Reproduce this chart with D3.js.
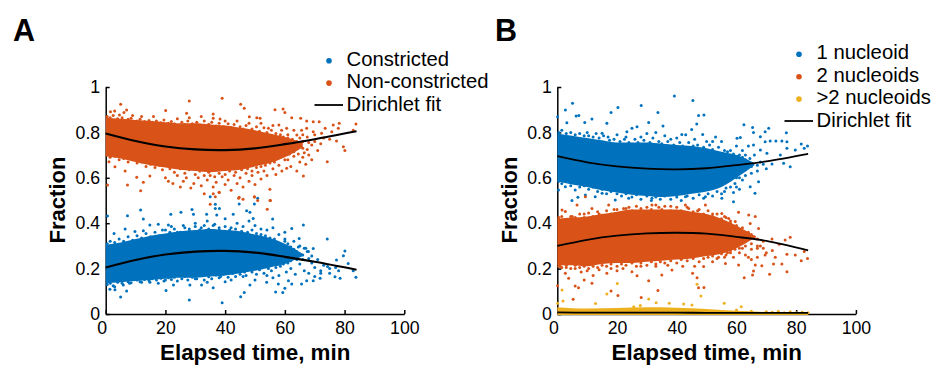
<!DOCTYPE html>
<html>
<head>
<meta charset="utf-8">
<script src="https://cdn.jsdelivr.net/npm/d3@7"></script>
<style>
  body { margin: 0; background: white; overflow: hidden; }
  svg { display: block; font-family: "Liberation Sans", Arial, sans-serif; }
  .tick text { font-size: 17.7px; fill: black; }
</style>
</head>
<body>
<div id="chart-container"></div>
<script>
const xTicks = [0, 20, 40, 60, 80, 100];
const yTicks = [0, 0.2, 0.4, 0.6, 0.8, 1];

const legendA = ["Constricted", "Non-constricted"];
const legendB = ["1 nucleoid", "2 nucleoids", ">2 nucleoids"];

// fit curves
const fitTimes = [0, 10, 20, 30, 40, 50, 60, 70, 84];
const fitNonConstricted = [0.795, 0.762, 0.738, 0.725, 0.722, 0.73, 0.748, 0.77, 0.805];
const fitConstricted = [0.205, 0.238, 0.262, 0.275, 0.278, 0.27, 0.252, 0.23, 0.195];
const fitOne = [0.695, 0.668, 0.65, 0.64, 0.637, 0.642, 0.656, 0.672, 0.705];
const fitTwo = [0.3, 0.327, 0.345, 0.355, 0.358, 0.354, 0.34, 0.322, 0.28];
const fitMore = [0.007, 0.006, 0.006, 0.006, 0.006, 0.005, 0.005, 0.005, 0.005];

// the clouds are too dense to read dot by dot, so their solid core is an
// estimated lower/upper band and only the dots around it are listed, by eye
const coreTimes = [0, 5, 10, 15, 20, 25, 30, 35, 40, 45, 50, 55, 60, 66];
const coreNonUpper = [0.865, 0.86, 0.855, 0.85, 0.845, 0.84, 0.84, 0.835, 0.83, 0.82, 0.81, 0.795, 0.78, 0.755];
const coreNonLower = [0.695, 0.685, 0.67, 0.655, 0.645, 0.635, 0.63, 0.625, 0.63, 0.635, 0.65, 0.665, 0.69, 0.735];
const coreConUpper = [0.305, 0.315, 0.33, 0.345, 0.355, 0.365, 0.37, 0.375, 0.37, 0.365, 0.35, 0.335, 0.31, 0.265];
const coreConLower = [0.135, 0.14, 0.145, 0.15, 0.155, 0.16, 0.16, 0.165, 0.17, 0.18, 0.19, 0.205, 0.22, 0.255];
const coreOneUpper = [0.795, 0.785, 0.775, 0.765, 0.755, 0.755, 0.755, 0.75, 0.745, 0.74, 0.73, 0.715, 0.7, 0.665];
const coreOneLower = [0.585, 0.57, 0.56, 0.545, 0.535, 0.525, 0.52, 0.515, 0.52, 0.53, 0.54, 0.56, 0.6, 0.655];
const coreTwoUpper = [0.42, 0.425, 0.43, 0.44, 0.45, 0.46, 0.46, 0.46, 0.46, 0.45, 0.44, 0.42, 0.39, 0.345];
const coreTwoLower = [0.215, 0.215, 0.21, 0.22, 0.225, 0.225, 0.23, 0.235, 0.24, 0.245, 0.255, 0.265, 0.29, 0.335];
const coreMoreTimes = [0, 10, 20, 30, 40, 50, 60, 70, 84];
const coreMoreUpper = [0.03, 0.024, 0.026, 0.03, 0.028, 0.022, 0.014, 0.009, 0.007];
const coreMoreLower = [-0.004, -0.004, -0.004, -0.004, -0.004, -0.004, -0.004, -0.004, -0.004];

const dotsNon = [
  [5,.924],[28,.938],[39,.95],[45.2,.924],[46.4,.906],[1.6,.891],[3,.894],[7,.899],[6.1,.888],[4.6,.877],
  [20.1,.897],[27.1,.884],[36,.881],[56.7,.9],[59.4,.903],[60,.888],[36,.862],[38.3,.859],[48.1,.869],[50.6,.865],
  [51.7,.862],[54.5,.818],[58,.833],[62.3,.865],[65.3,.862],[67.3,.85],[69.5,.847],[71.5,.847],[73.5,.818],[76.2,.833],
  [78.2,.84],[83.8,.837],[82.9,.81],[77.9,.818],[75.7,.803],[72.3,.796],[69.5,.803],[67.3,.818],[65.6,.81],[64,.789],
  [60.6,.818],[58.9,.81],[77.3,.762],[79.6,.737],[80.1,.72],[74.2,.671],[66.2,.608],[64,.63],[60.6,.642],[.6,.568],
  [7.3,.568],[11.7,.543],[12.6,.58],[10.4,.602],[14.8,.608],[6.5,.63],[3.1,.649],[1.1,.671],[20,.6],[21,.585],
  [22.5,.575],[24,.61],[25,.56],[26,.585],[27,.6],[28.5,.555],[29.5,.575],[31,.6],[32,.565],[33,.53],
  [34,.59],[35,.61],[36,.56],[37,.58],[38,.535],[39,.605],[40,.57],[41,.59],[42,.545],[43,.61],
  [44,.575],[45,.6],[46,.56],[47,.62],[48,.585],[49,.61],[50,.57],[51,.625],[52,.595],[53,.63],
  [54,.61],[55,.55],[56,.64],[57,.615],[58,.655],[59,.63],[61,.68],[62,.65],[63,.695],[65,.67],
  [66,.69],[67,.66],[68,.7],[69,.68],[71,.72],[62,.72],[64,.74],[66,.73],[68,.755],[70,.76],
  [72,.75],[60,.74],[62.5,.77],[65,.775],[67.5,.78],[70,.79],[73,.775],[75,.77],[61,.79],[63,.81],
  [66,.79],[56,.83],[52,.84],[48,.84],[44,.85],[40,.85],[32,.87],[28,.865],[24,.86],[16,.87],
  [12,.87],[9,.875],[36,.53],[38,.536],[44.5,.51],[46,.506],[49.8,.515],[55,.5],[35,.483],[36.7,.517],
  [44.7,.514],[49.8,.517],[50.9,.5],[55.2,.5],[54.1,.461],
  [.5,.87],[1.5,.865],[2.5,.875],[4,.86],[5.5,.865],[7.5,.858],[8.5,.862],[10.5,.85],[11.5,.858],[13,.848],
  [14.5,.852],[15.5,.845],[17,.85],[18.5,.842],[19.5,.855],[21,.84],[22,.848],[23,.838],[25.5,.845],[26.5,.835],
  [27.5,.85],[29,.838],[30.5,.845],[31.5,.83],[33,.85],[34.5,.836],[35.5,.845],[37,.828],[38,.84],[39.5,.825],
  [41,.838],[42,.822],[43,.835],[45,.825],[46,.815],[47,.83],[49,.815],[50.5,.825],[51.5,.805],[53,.82],
  [54,.8],[55.5,.81],[57,.795],[58.5,.79],[59.5,.78],[61,.775],[62,.765],[.5,.7],[1.5,.69],[3,.695],
  [4.5,.68],[6,.685],[7.5,.67],[9,.68],[10.5,.665],[12,.67],[13.5,.65],[15,.66],[16.5,.645],[18,.655],
  [19,.635],[21.5,.64],[23,.625],[25,.64],[26.5,.62],[28,.635],[30,.615],[31.5,.63],[33,.61],[34.5,.625],
  [36.5,.605],[38,.62],[40,.615],[41.5,.63],[43.5,.625],[45.5,.635],[47.5,.64],[49,.63],[50.5,.645],[52,.65],
  [53.5,.655],[55,.665],[56.5,.67],[57.5,.685],[59,.695],[60,.68],[61.5,.705],[63,.715],[64.5,.705],[66.5,.71],
  [67.5,.725],[69,.745],[64,.76],[66,.76],[61,.73],[63,.745],[65,.74]
];
const dotsCon = [
  [35,.517],[36.7,.483],[38.1,.465],[36.7,.465],[44.7,.485],[50.9,.51],[49.8,.485],[48.3,.448],[47.2,.455],[11.7,.458],
  [7.3,.433],[12.6,.418],[.6,.432],[21.8,.439],[25.2,.448],[28.9,.46],[29.4,.439],[33.8,.439],[37.2,.436],[42.7,.439],
  [49.4,.421],[55.9,.418],[62.3,.377],[66.2,.392],[64.8,.333],[74.2,.33],[80.1,.278],[81.2,.223],[79.6,.257],[77.3,.238],
  [69.5,.289],[67.9,.275],[6.5,.374],[2.8,.355],[9.8,.363],[12.6,.367],[14.8,.392],[17.6,.395],[21,.392],[28,.062],
  [39,.05],[5,.075],[20.2,.103],[46.4,.095],[45.2,.076],[56.9,.097],[59.3,.095],[60,.113],[3.1,.107],[1.4,.109],
  [7,.101],[5.9,.128],[83.8,.162],[82.9,.19],[78.5,.157],[76.8,.164],[74.3,.209],[71.8,.157],[69.5,.147],[67.3,.147],
  [65.6,.132],[62.3,.132],[61.2,.147],[57.8,.132],[53.9,.14],[48.3,.128],[36,.116],[40,.142],[32.1,.128],[28.2,.128],
  [22.7,.128],[17.6,.135],[14.8,.14],[60,.33],[61,.31],[62,.295],[63,.32],[64,.275],[65,.3],[66,.26],
  [67,.29],[68,.245],[69,.225],[70,.205],[71,.24],[72,.19],[73,.215],[75,.2],[77,.205],[60.5,.185],
  [62,.2],[63.5,.175],[65,.22],[66.5,.19],[68,.18],[70,.165],[72,.18],[75,.18],[78,.19],[61.5,.24],
  [63,.26],[20,.37],[22,.385],[24,.36],[26,.39],[28,.375],[30,.4],[32,.38],[34,.41],[36,.39],
  [38,.37],[40,.42],[42,.38],[44,.4],[46,.385],[48,.41],[50,.39],[52,.375],[54,.37],[56,.38],
  [58,.35],[60,.36],[20,.15],[24,.145],[30,.155],[34,.14],[38,.16],[42,.15],[46,.165],[50,.15],
  [54,.17],[56,.16],[58,.17],[3,.12],[8,.135],[12,.14],
  [.5,.31],[1.5,.32],[3,.315],[4.5,.33],[6,.32],[7.5,.34],[9,.325],[10.5,.345],[12,.335],[13.5,.355],
  [15,.34],[16.5,.36],[18,.345],[19,.37],[21.5,.36],[23,.375],[25,.36],[26.5,.38],[28,.365],[30,.385],
  [31.5,.37],[33,.39],[34.5,.375],[36.5,.395],[38,.38],[40,.385],[41.5,.37],[43.5,.375],[45.5,.365],[47.5,.36],
  [49,.37],[50.5,.355],[52,.35],[53.5,.345],[55,.335],[56.5,.33],[57.5,.315],[59,.305],[60,.32],[61.5,.295],
  [63,.285],[64.5,.295],[66.5,.29],[67.5,.275],[69,.255],[.5,.13],[1.5,.135],[2.5,.125],[4,.14],[5.5,.135],
  [7.5,.142],[8.5,.138],[10.5,.15],[11.5,.142],[13,.152],[14.5,.148],[15.5,.155],[17,.15],[18.5,.158],[19.5,.145],
  [21,.16],[22,.152],[23,.162],[25.5,.155],[26.5,.165],[27.5,.15],[29,.162],[30.5,.155],[31.5,.17],[33,.15],
  [34.5,.164],[35.5,.155],[37,.172],[38.5,.165],[39.5,.175],[41,.162],[42.5,.178],[43.5,.165],[45,.175],[46.5,.185],
  [47,.17],[49,.185],[50.5,.175],[51.5,.195],[53,.18],[54.5,.2],[55.5,.19],[57,.205],[58.5,.21],[59.5,.22],
  [61,.225],[62,.235],[64,.24],[66,.24],[61,.27],[63,.255],[65,.26]
];
const dotsOne = [
  [39.2,.96],[45.4,.94],[5.1,.928],[20.3,.91],[28.1,.919],[2.7,.899],[33.7,.888],[18,.888],[6.3,.872],[7.2,.874],
  [47.3,.874],[49.1,.877],[.1,.869],[11.6,.859],[3.2,.843],[9.2,.844],[30.6,.844],[16.6,.84],[35.4,.828],[46.7,.837],
  [62.5,.834],[65.4,.822],[70.8,.818],[69.6,.803],[65.7,.8],[76.7,.799],[68,.781],[69.6,.759],[71.3,.762],[73.2,.762],
  [75.2,.762],[76.9,.759],[81.7,.749],[83.8,.74],[82.7,.73],[79.7,.722],[76.9,.73],[74.7,.7],[70.2,.708],[68,.722],
  [65.7,.744],[71.9,.661],[78,.649],[75.8,.664],[67.4,.583],[66.2,.532],[64.6,.561],[60.2,.774],[61.3,.778],[25,.818],
  [26.7,.825],[23.3,.803],[41.7,.791],[45,.813],[48.7,.791],[15,.796],[58,.72],[60,.74],[61,.7],[62,.72],
  [63,.68],[64,.74],[65,.66],[66,.7],[67,.63],[68,.67],[62,.64],[60,.6],[63,.61],[65,.62],
  [58,.59],[60,.56],[62,.59],[56,.54],[59,.535],[61,.55],[58,.64],[55,.76],[52,.76],[53,.78],
  [4.9,.5],[6.9,.514],[12.7,.517],[19.4,.502],[9.4,.524],[59,.495],[55.1,.51],[.4,.546],[2.7,.561],[6,.546],
  [15,.532],[23.9,.51],[31.7,.51],[42.9,.517],[49.6,.517],[10,.8],[13,.795],[17,.78],[20,.79],[23,.78],
  [28,.78],[30,.795],[33,.8],[36,.785],[38,.77],[40,.775],[43,.79],[46,.77],[50,.76],
  [.5,.8],[1.5,.81],[3,.795],[4.5,.8],[6,.79],[7.5,.795],[9,.785],[10.5,.785],[12,.78],[14,.775],
  [15.5,.785],[17.5,.765],[19,.77],[21,.76],[22.5,.77],[24,.755],[26,.77],[27,.755],[29,.765],[31,.755],
  [32,.775],[34,.76],[35,.75],[37,.76],[39,.745],[41,.755],[42,.74],[44,.755],[45.5,.74],[47,.745],
  [49,.735],[51,.745],[52,.725],[54,.735],[56,.72],[57,.715],[59,.705],[60.5,.695],[62,.69],[63,.7],
  [64.5,.685],[.5,.585],[1.5,.575],[3,.585],[4.5,.565],[6,.575],[7.5,.56],[9,.565],[10.5,.55],[12,.56],
  [13.5,.54],[15,.55],[16.5,.53],[18,.54],[20,.53],[21.5,.52],[23,.53],[25,.515],[26.5,.525],[28,.505],
  [30,.52],[31.5,.5],[33,.515],[34.5,.505],[36,.52],[38,.505],[40,.515],[41.5,.5],[43.5,.52],[45.5,.51],
  [47.5,.525],[49,.51],[50.5,.53],[52,.52],[53.5,.54],[55,.53],[56.5,.555],[58,.56],[59.5,.575],[61,.6],
  [63,.635],[65,.65],[67,.655],[69,.66],[70,.64]
];
const dotsTwo = [
  [.1,.125],[6,.123],[7.1,.116],[11.6,.135],[5.3,.065],[18,.101],[20.3,.081],[28.1,.073],[33.7,.103],[30.6,.147],
  [26.7,.169],[45.3,.179],[46.8,.16],[49.1,.117],[47.3,.116],[62.6,.16],[65.4,.172],[65.7,.189],[71.1,.175],[76.9,.186],
  [66.3,.216],[68.5,.213],[72.4,.22],[75.2,.22],[81.7,.235],[83.8,.245],[82.7,.275],[78,.338],[76.3,.326],[71.9,.33],
  [74.3,.307],[76.9,.263],[79.7,.26],[69.6,.26],[67.4,.377],[66.3,.429],[64.1,.436],[60.7,.448],[64.6,.399],[2.7,.179],
  [3.8,.157],[9,.15],[16.6,.179],[25,.186],[35,.172],[38.4,.194],[49,.209],[56.3,.223],[60.7,.216],[1.6,.458],
  [2.7,.451],[6.6,.48],[9.4,.517],[11.6,.465],[17.2,.48],[22.2,.465],[31.7,.48],[42.9,.48],[49.6,.48],[55.1,.443],
  [57.4,.421],[59.6,.407],[58,.4],[60,.39],[61,.35],[62,.38],[63,.33],[64,.36],[65,.31],[66,.34],
  [67,.29],[68,.3],[69,.32],[70,.27],[72,.28],[73,.25],[60,.3],[61,.27],[62,.29],[63,.26],
  [64,.25],[65,.24],[67,.25],[58,.28],[59,.25],[57,.27],[56,.25],[54,.25],[52,.23],[46,.21],
  [42,.21],[37,.215],[33,.21],[28,.21],[22,.2],[18,.2],[14,.195],[10,.19],[6,.2],[3,.205],
  [1,.21],[8,.185],[20,.19],[12,.17],[5,.43],[9,.44],[14,.44],[19,.46],[24,.47],[28,.465],
  [34,.47],[38,.475],[44,.465],[47,.455],[52,.44],[56,.43],
  [.5,.425],[1.5,.43],[3,.415],[4.5,.43],[6,.425],[7.5,.44],[9,.425],[10.5,.445],[12,.43],[13.5,.45],
  [15,.435],[16.5,.455],[18,.44],[20,.46],[21.5,.445],[23,.465],[25,.455],[26.5,.475],[28,.455],[30,.47],
  [31.5,.46],[33,.48],[35,.46],[36,.475],[38,.455],[40,.47],[41.5,.455],[43.5,.47],[45.5,.45],[47.5,.46],
  [49,.44],[50.5,.455],[52,.43],[53.5,.44],[55,.42],[56.5,.425],[58,.41],[59.5,.385],[61,.37],[63,.36],
  [65,.35],[67,.33],[.5,.21],[1.5,.205],[3,.215],[4.5,.2],[6,.215],[7.5,.205],[9,.21],[10.5,.2],
  [12,.21],[13.5,.205],[15,.215],[16.5,.21],[18,.22],[20,.21],[21.5,.22],[23,.215],[25,.225],[26.5,.21],
  [28,.225],[30,.215],[31.5,.23],[33,.22],[34.5,.23],[36,.225],[38,.235],[40,.225],[41.5,.24],[43.5,.235],
  [45.5,.245],[47.5,.23],[49,.245],[50.5,.25],[52,.255],[53.5,.245],[55,.265],[56.5,.26],[58,.27],[59.5,.285],
  [61,.29],[63,.3],[65,.285],[67,.3],[69,.29]
];
const dotsMore = [
  [1.6,.106],[1.9,.057],[.1,.047],[12.8,.046],[20.1,.134],[16.6,.088],[27.8,.037],[30.6,.066],[33.1,.05],[37.5,.047],
  [42.3,.044],[46.8,.131],[48.1,.079],[55.9,.047],[61.6,.032],[25.6,.032],[45.1,.04],[60,.018],[65,.012],[70,.01],
  [72,.008],[74,.012],[76,.006],[78,.01],[80,.006],[82,.008],[84,.005]
];

const blue = "#0072BD";
const orange = "#D95319";
const yellow = "#EDB120";

const main = function() {
  const svg = d3.select("#chart-container")
    .append("svg")
    .attr("width", 935)
    .attr("height", 368);

  const drawPanel = function(left, letter, letterX, series) {
    const x = d3.scaleLinear().domain([0, 100]).range([left, left + 298.6]);
    const y = d3.scaleLinear().domain([0, 1]).range([314, 87]);
    const g = svg.append("g");

    const xAxis = g.append("g")
      .attr("transform", "translate(0,314)")
      .call(d3.axisBottom(x).tickValues(xTicks).tickFormat(d3.format("d"))
        .tickSizeInner(-4).tickSizeOuter(0).tickPadding(7));
    xAxis.selectAll(".tick text").filter(d => d === 0).attr("dx", -4);

    const yAxis = g.append("g")
      .attr("transform", "translate(" + left + ",0)")
      .call(d3.axisLeft(y).tickValues(yTicks).tickFormat(d => d)
        .tickSizeInner(-4).tickSizeOuter(0).tickPadding(5.5));

    [xAxis, yAxis].forEach(axis => {
      axis.select(".domain").attr("stroke-width", 1.5);
      axis.selectAll(".tick line").attr("stroke-width", 1.5);
    });

    const area = d3.area().curve(d3.curveMonotoneX)
      .x(d => x(d[0])).y0(d => y(d[1])).y1(d => y(d[2]));
    const line = d3.line().curve(d3.curveCatmullRom)
      .x(d => x(d[0])).y(d => y(d[1]));

    series.forEach(s => {
      g.append("path")
        .datum(s.times.map((t, i) => [t, s.lower[i], s.upper[i]]))
        .attr("d", area)
        .attr("fill", s.color);
      g.selectAll()
        .data(s.dots)
        .enter()
        .append("circle")
        .attr("cx", d => x(d[0]))
        .attr("cy", d => y(d[1]))
        .attr("r", 1.5)
        .attr("fill", s.color);
    });
    series.forEach(s => {
      g.append("path")
        .datum(fitTimes.map((t, i) => [t, s.fit[i]]))
        .attr("d", line)
        .attr("fill", "none")
        .attr("stroke", "black")
        .attr("stroke-width", s.fitWidth);
    });

    g.append("text")
      .attr("x", letterX)
      .attr("y", 41)
      .attr("font-size", 30.5)
      .attr("font-weight", "bold")
      .text(letter);
    g.append("text")
      .attr("x", left + 149.5)
      .attr("y", 360)
      .attr("text-anchor", "middle")
      .attr("font-size", 22.4)
      .attr("font-weight", "bold")
      .text("Elapsed time, min");
    g.append("text")
      .attr("transform", "translate(" + (left - 40.5) + ",200) rotate(-90)")
      .attr("text-anchor", "middle")
      .attr("font-size", 22)
      .attr("font-weight", "bold")
      .text("Fraction");
  };

  const drawLegend = function(names, colors, dotX, lineY, startY) {
    names.forEach((name, i) => {
      svg.append("circle")
        .attr("cx", dotX)
        .attr("cy", startY + i * 22.4 - 5)
        .attr("r", 2.8)
        .attr("fill", colors[i]);
      svg.append("text")
        .attr("x", dotX + 17.5)
        .attr("y", startY + i * 22.4)
        .attr("font-size", 20.3)
        .text(name);
    });
    svg.append("line")
      .attr("x1", dotX - 14.5)
      .attr("x2", dotX + 14)
      .attr("y1", lineY)
      .attr("y2", lineY)
      .attr("stroke", "black")
      .attr("stroke-width", 1.8);
    svg.append("text")
      .attr("x", dotX + 17.5)
      .attr("y", startY + names.length * 22.4)
      .attr("font-size", 20.3)
      .text("Dirichlet fit");
  };

  drawPanel(105.7, "A", 13, [
    { times: coreTimes, lower: coreConLower, upper: coreConUpper, dots: dotsCon, color: blue, fit: fitConstricted, fitWidth: 2.2 },
    { times: coreTimes, lower: coreNonLower, upper: coreNonUpper, dots: dotsNon, color: orange, fit: fitNonConstricted, fitWidth: 2.2 }
  ]);
  drawPanel(557.3, "B", 495, [
    { times: coreTimes, lower: coreOneLower, upper: coreOneUpper, dots: dotsOne, color: blue, fit: fitOne, fitWidth: 1.8 },
    { times: coreTimes, lower: coreTwoLower, upper: coreTwoUpper, dots: dotsTwo, color: orange, fit: fitTwo, fitWidth: 1.8 },
    { times: coreMoreTimes, lower: coreMoreLower, upper: coreMoreUpper, dots: dotsMore, color: yellow, fit: fitMore, fitWidth: 1.8 }
  ]);

  drawLegend(legendA, [blue, orange], 329, 105, 65.7);
  drawLegend(legendB, [blue, orange, yellow], 799, 121, 59.3);
};

window.onload = main;
</script>
</body>
</html>
